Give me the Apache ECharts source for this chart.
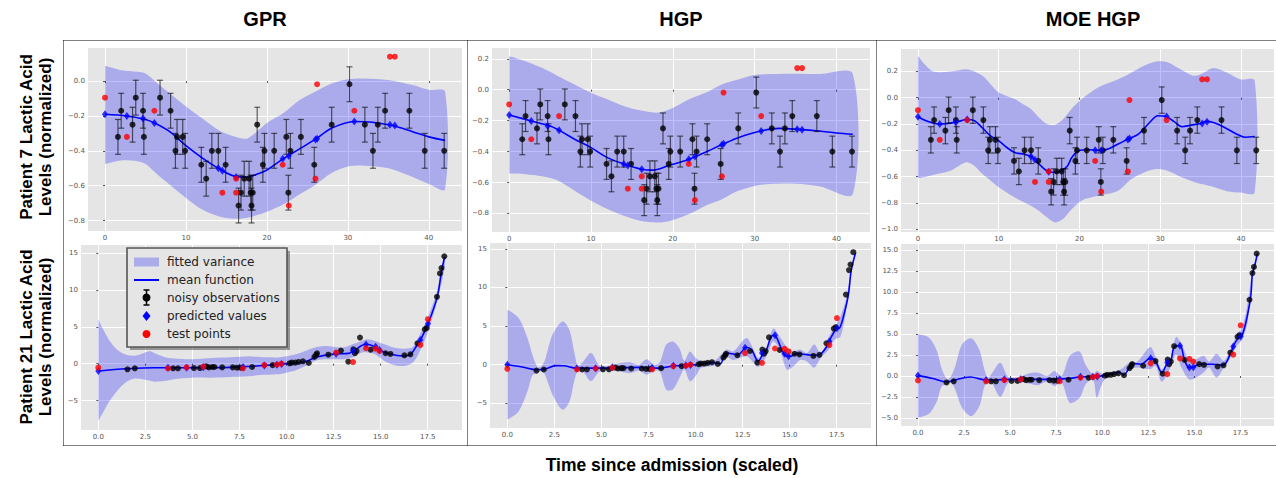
<!DOCTYPE html>
<html>
<head>
<meta charset="utf-8">
<script src="https://cdn.jsdelivr.net/npm/echarts@6/dist/echarts.min.js"></script>
<style>
html, body { margin: 0; padding: 0; background: #fff; }
#chart { width: 1276px; height: 478px; }
</style>
</head>
<body>
<div id="chart"></div>
<script>
// ---- Patient 7 (top row) ----
const obs7X = [1.6,2.0,3.4,3.8,4.7,4.8,6.8,8.1,8.7,8.9,9.6,9.9,11.9,12.5,13.2,14.0,14.9,16.5,16.8,17.2,17.8,18.0,18.1,18.25,18.8,19.5,19.7,20.9,22.4,22.65,22.9,24.2,25.85,28.0,30.2,32.1,33.1,33.7,34.6,37.6,39.5,41.9];
const obs7Y = [-0.32,-0.17,-0.25,-0.095,-0.17,-0.32,-0.095,-0.17,-0.40,-0.32,-0.32,-0.40,-0.48,-0.56,-0.40,-0.40,-0.48,-0.714,-0.64,-0.56,-0.56,-0.64,-0.714,-0.64,-0.25,-0.48,-0.40,-0.40,-0.32,-0.64,-0.40,-0.32,-0.48,-0.25,-0.018,-0.25,-0.40,-0.25,-0.17,-0.17,-0.40,-0.40];
const obs7Err = 0.1;
const test7X = [0,2.7,6.1,14.5,16.2,16.2,21.95,22.7,26.0,26.2,30.8,35.2,35.8];
const test7Y = [-0.095,-0.32,-0.17,-0.64,-0.56,-0.64,-0.48,-0.714,-0.56,-0.018,-0.17,0.14,0.14];
const pred7X = [0,2.7,4.7,6.1,14.0,14.5,16.2,21.95,22.7,26.0,26.2,30.8,35.2,35.8];
const gprPred7Y = [-0.19,-0.2,-0.215,-0.24,-0.5,-0.515,-0.55,-0.446,-0.43,-0.335,-0.33,-0.232,-0.25,-0.255];
const hgpPred7Y = [-0.163,-0.202,-0.234,-0.262,-0.48,-0.49,-0.514,-0.45,-0.432,-0.355,-0.35,-0.267,-0.256,-0.258];
const moePred7Y = [-0.145,-0.2,-0.186,-0.165,-0.446,-0.472,-0.563,-0.4,-0.4,-0.318,-0.31,-0.142,-0.195,-0.183];

const gprMean7X = [0,2.7,5,6.1,8,10,12,14,16,17.5,19,20,22,24,26,28,30.8,33,35.5,38,40,42];
const gprMean7Y = [-0.19,-0.2,-0.22,-0.24,-0.29,-0.37,-0.44,-0.5,-0.545,-0.55,-0.53,-0.51,-0.446,-0.39,-0.333,-0.27,-0.232,-0.236,-0.255,-0.29,-0.32,-0.34];
const gprBand7X = [0,2,4,5,6.5,8,10,12,14,16,17.5,19,20,22,24,26,28,30,32,35,38,40,42];
const gprBand7Hi = [0.088,0.063,0.054,0.044,-0.013,-0.07,-0.146,-0.213,-0.28,-0.318,-0.33,-0.28,-0.24,-0.185,-0.11,-0.06,-0.013,0.011,0.015,0.006,-0.023,-0.05,-0.06];
const gprBand7Lo = [-0.476,-0.455,-0.46,-0.476,-0.537,-0.594,-0.67,-0.737,-0.775,-0.79,-0.785,-0.766,-0.75,-0.708,-0.65,-0.594,-0.527,-0.49,-0.485,-0.5,-0.55,-0.59,-0.62];

const hgpMean7X = [0,2.7,5,6.1,8,10,12,14,16.2,17.5,19.5,22,24.3,26.1,28,30.75,33,35.35,37.9,40,42];
const hgpMean7Y = [-0.163,-0.202,-0.234,-0.262,-0.32,-0.374,-0.439,-0.48,-0.514,-0.52,-0.49,-0.45,-0.396,-0.353,-0.31,-0.267,-0.25,-0.256,-0.267,-0.28,-0.288];
const hgpBand7X = [0,2,4,6,8,10,12,14,16,18,19.5,22,24,26,28,30,32,35,38,42];
const hgpBand7Hi = [0.217,0.185,0.142,0.088,0.034,-0.019,-0.062,-0.105,-0.133,-0.148,-0.13,-0.062,-0.02,0.034,0.066,0.095,0.102,0.104,0.102,0.102];
const hgpBand7Lo = [-0.542,-0.546,-0.56,-0.589,-0.654,-0.718,-0.772,-0.815,-0.847,-0.858,-0.85,-0.804,-0.75,-0.708,-0.654,-0.622,-0.61,-0.608,-0.625,-0.675];

const moeMean7X = [0,1,2.7,4.7,6.1,7,8,9,10,11,12,13.2,14,14.5,15,16.2,17,17.7,18.5,19.06,19.9,21,22.8,24.8,26,27.3,28.9,29.7,30.7,31.7,32.7,33.7,35,35.7,36.6,37.8,39.5,40.5,41.7];
const moeMean7Y = [-0.145,-0.175,-0.2,-0.186,-0.165,-0.175,-0.23,-0.29,-0.327,-0.378,-0.416,-0.43,-0.446,-0.472,-0.504,-0.563,-0.568,-0.555,-0.52,-0.454,-0.403,-0.395,-0.4,-0.352,-0.314,-0.276,-0.175,-0.137,-0.142,-0.18,-0.22,-0.21,-0.195,-0.18,-0.188,-0.22,-0.277,-0.3,-0.295];
const moeBand7X = [0,1,2,4,6,7,8,9,10,12,13,14,15,16,17,18,19,20.3,22.3,24.8,26.4,28,29.5,30.9,32.5,34.2,35.4,36.6,38.3,39.9,41.7];
const moeBand7Hi = [0.319,0.243,0.197,0.2,0.217,0.2,0.167,0.103,0.04,-0.01,-0.048,-0.086,-0.15,-0.2,-0.205,-0.162,-0.086,-0.01,0.078,0.14,0.19,0.243,0.276,0.27,0.217,0.167,0.19,0.225,0.19,0.14,0.13];
const moeBand7Lo = [-0.611,-0.6,-0.585,-0.555,-0.49,-0.518,-0.58,-0.63,-0.68,-0.758,-0.79,-0.82,-0.86,-0.91,-0.948,-0.92,-0.85,-0.78,-0.745,-0.706,-0.62,-0.568,-0.542,-0.555,-0.6,-0.64,-0.66,-0.678,-0.71,-0.72,-0.72];

// ---- Patient 21 (bottom row) ----
const obs21X = [1.55,1.94,3.97,4.23,5.08,5.40,5.73,5.87,6.05,6.17,6.58,7.14,7.37,7.55,8.17,9.26,10.16,10.28,10.46,10.64,10.87,11.18,11.48,11.57,11.62,12.22,12.89,13.28,13.55,13.63,13.72,13.90,14.47,15.26,15.52,16.26,16.58,16.95,17.34,17.45,17.99,18.15,18.23,18.38];
const obs21Y = [-0.77,-0.63,-0.63,-0.63,-0.6,-0.6,-0.36,-0.5,-0.45,-0.45,-0.5,-0.5,-0.55,-0.55,-0.45,-0.2,0.05,0.14,0.14,0.23,0.32,0.09,0.92,1.18,1.41,1.22,1.77,0.27,1.95,1.41,1.72,3.54,1.9,1.41,1.32,1.13,1.27,2.77,4.67,4.85,9.07,12.24,12.97,14.56];
const test21X = [0,3.7,4.69,5.58,7.69,8.82,9.49,9.73,12.63,13.53,14.22,14.73,14.94,17.11,17.51];
const test21Y = [-0.54,-0.63,-0.5,-0.4,-0.63,-0.2,-0.14,0.0,1.5,0.22,2.09,2.04,1.72,2.54,6.03];
const gprPred21Y = [-1.0,-0.55,-0.55,-0.5,-0.45,-0.25,-0.15,-0.05,1.35,1.75,2.6,2.3,1.86,3.2,5.4];
const hgpPred21Y = [0.0,-0.45,-0.45,-0.35,-0.4,-0.15,-0.1,-0.05,2.2,1.5,3.8,1.4,1.08,3.0,4.7];
const moePred21Y = [0.07,-0.48,-0.4,-0.4,-0.4,-0.1,-0.1,-0.05,2.1,1.6,3.6,1.0,1.05,3.5,4.7];

const gprMean21X = [0,1.5,3,5,7,8.8,10,11,11.6,12.5,13.3,13.6,14.2,14.5,14.94,15.5,16.2,16.6,16.95,17.11,17.51,18.0,18.23,18.4];
const gprMean21Y = [-1.0,-0.7,-0.55,-0.55,-0.5,-0.25,0.0,0.3,0.9,1.3,1.4,1.8,2.63,2.5,1.86,1.3,1.04,1.3,2.6,3.2,5.4,9.0,12.5,14.5];
const gprBand21X = [0,0.3,0.6,1.0,1.5,2.0,2.7,3.0,3.5,4,5,6,7,8,8.6,9.5,10,10.5,11,11.5,12,12.5,13,13.5,14,14.3,14.7,15.2,15.7,16.2,16.7,17,17.5,18,18.4];
const gprBand21Hi = [6.0,4.45,3.1,1.9,1.2,1.1,1.7,1.4,0.91,0.7,0.6,0.77,0.86,1.0,0.9,0.85,1.0,1.27,1.72,2.18,2.4,2.3,2.18,2.63,3.09,3.3,3.09,2.63,2.18,2.04,2.27,3.54,6.26,9.9,14.7];
const gprBand21Lo = [-7.8,-6.4,-5.07,-3.7,-2.45,-2.0,-2.3,-2.45,-2.36,-2.1,-1.9,-1.9,-1.8,-1.7,-1.54,-1.45,-1.22,-0.9,-0.32,0.37,0.6,0.6,0.6,0.82,1.5,1.5,1.27,0.37,-0.18,-0.32,0.14,1.27,4.2,8.5,13.0];

const hgpMean21X = [0,0.8,1.56,2.0,2.57,3.0,3.66,5,7,8,8.88,9.59,10.2,10.92,11.3,11.64,12.26,12.7,12.97,13.33,13.6,13.77,14.0,14.17,14.31,14.58,14.85,15.06,15.35,15.92,16.35,16.65,17.06,17.2,17.5,17.65,17.86,18.12,18.27,18.5];
const hgpMean21Y = [0.0,-0.3,-0.65,-0.56,-0.13,-0.15,-0.45,-0.45,-0.35,-0.45,-0.15,-0.1,0.05,0.3,0.1,1.51,1.3,2.25,1.95,0.44,1.51,1.95,3.55,3.8,3.5,1.95,1.08,1.08,1.43,1.3,1.2,1.38,2.68,3.55,4.67,4.75,6.27,9.07,12.2,14.47];
const hgpBand21X = [0,0.6,1.07,1.33,1.6,1.8,2.0,2.4,2.93,3.3,3.55,3.75,4.0,4.45,4.9,5.5,6.0,6.5,7.0,7.4,7.8,8.1,8.44,8.8,9.15,9.4,9.7,10.0,10.3,11,11.64,12.0,12.7,13.06,13.33,13.77,14.13,14.5,14.85,15.2,15.56,15.92,16.3,16.65,17.06,17.36,17.7,18.0,18.27,18.5];
const hgpBand21Hi = [7.12,6.05,3.46,1.3,-0.3,-0.2,0.6,3.89,5.6,4.5,1.73,-0.2,0.3,1.5,-0.1,-0.1,0.2,0.3,0.0,0.7,0.0,0.3,2.6,3.0,2.1,0.5,1.7,0.9,0.5,0.5,1.95,1.7,3.46,2.1,0.87,2.25,4.67,3.5,2.25,1.7,1.95,1.5,2.6,1.5,3.5,4.8,6.27,8.6,12.4,14.5];
const hgpBand21Lo = [-7.12,-6.05,-3.45,-1.4,-1.0,-0.9,-1.3,-3.9,-5.83,-4.8,-2.2,-0.8,-0.9,-2.15,-0.9,-0.8,-0.9,-1.1,-0.8,-1.3,-0.8,-0.9,-3.24,-3.2,-1.7,-0.6,-2.15,-1.5,-0.4,-0.1,1.0,0.6,1.08,0.3,-0.3,1.08,3.03,1.73,-0.65,-0.2,0.6,0.4,-0.4,0.9,1.9,3.2,3.65,7.0,12.0,14.4];

const moeMean21X = [0,0.8,1.57,1.9,2.83,3.7,5,6,7,8.24,8.87,9.68,10.12,10.4,10.94,11.15,11.47,11.6,12.1,12.6,12.87,13.23,13.54,13.72,13.92,14.23,14.45,14.72,14.94,15.26,15.98,16.56,16.98,17.12,17.43,17.56,18.03,18.15,18.26,18.42];
const moeMean21Y = [0.07,-0.3,-0.71,-0.55,-0.12,-0.48,-0.4,-0.4,-0.4,-0.29,-0.1,-0.1,0.1,0.2,0.45,0.1,1.0,1.5,1.4,2.1,1.85,0.4,1.6,1.85,3.5,3.6,1.98,1.0,1.05,1.4,1.4,1.3,2.78,3.6,4.64,4.7,9.0,12.2,13.0,14.56];
const moeBand21X = [0,0.6,1.03,1.3,1.6,1.8,2.0,2.4,2.9,3.35,3.6,3.8,4.0,4.47,4.9,5.5,6.0,6.5,7.0,7.4,7.8,8.24,8.77,9.1,9.5,9.7,9.97,10.3,10.94,11.5,11.9,12.6,12.9,13.23,13.7,14.0,14.3,14.7,15.1,15.5,15.8,16.2,16.6,16.98,17.3,17.6,17.9,18.15,18.42];
const moeBand21Hi = [4.95,4.56,2.98,0.79,-0.4,0.0,1.0,3.8,4.48,3.0,0.8,-0.2,0.3,1.58,-0.1,-0.1,0.3,0.4,0.0,0.6,0.0,2.4,2.9,1.3,0.2,0.6,0.3,0.3,0.7,1.6,1.7,3.45,2.3,0.8,2.1,4.64,3.8,2.0,2.0,2.4,1.7,2.65,1.8,3.3,4.9,5.8,8.8,12.5,14.6];
const moeBand21Lo = [-4.96,-4.5,-3.0,-1.2,-1.0,-0.8,-1.5,-3.8,-4.77,-3.5,-1.3,-0.7,-0.8,-2.5,-0.8,-0.7,-0.9,-1.1,-0.7,-1.2,-0.8,-3.2,-2.6,-1.0,-0.4,-2.6,-1.0,-0.1,0.2,0.8,1.0,0.8,1.2,-0.7,1.0,2.57,1.0,-0.4,-0.2,0.4,1.0,-0.2,1.0,2.3,3.6,4.3,6.6,12.0,14.5];

// ---- tick labels ----
const ticksX7 = [0,10,20,30,40];
const ticksX21 = [0,2.5,5,7.5,10,12.5,15,17.5];
const ticksYgpr7 = [-0.8,-0.6,-0.4,-0.2,0.0];
const ticksYhgp7 = [-0.8,-0.6,-0.4,-0.2,0.0,0.2];
const ticksYmoe7 = [-1.0,-0.8,-0.6,-0.4,-0.2,0.0,0.2];
const ticksYgpr21 = [-5,0,5,10,15];
const ticksYhgp21 = [-5,0,5,10,15];
const ticksYmoe21 = [-5,-2.5,0,2.5,5,7.5,10,12.5,15];

const BAND = 'rgba(0,0,255,0.25)';
const zip = (xs, ys) => xs.map((x, i) => [x, ys[i]]);
const fmt = dec => v => v.toFixed(dec).replace('-', '\u2212');

const panels = [
    { rect: [88, 48, 374, 183], xr: [-2.1, 44.1], yr: [-0.86, 0.19], xt: ticksX7, yt: ticksYgpr7, xd: 0, yd: 1,
      bx: gprBand7X, hi: gprBand7Hi, lo: gprBand7Lo, mx: gprMean7X, my: gprMean7Y,
      ox: obs7X, oy: obs7Y, err: obs7Err, px: pred7X, py: gprPred7Y, tx: test7X, ty: test7Y },
    { rect: [492, 48, 378, 184], xr: [-2.1, 44.1], yr: [-0.92, 0.27], xt: ticksX7, yt: ticksYhgp7, xd: 0, yd: 1,
      bx: hgpBand7X, hi: hgpBand7Hi, lo: hgpBand7Lo, mx: hgpMean7X, my: hgpMean7Y,
      ox: obs7X, oy: obs7Y, err: obs7Err, px: pred7X, py: hgpPred7Y, tx: test7X, ty: test7Y },
    { rect: [901, 49, 373, 183], xr: [-2.1, 44.1], yr: [-1.02, 0.37], xt: ticksX7, yt: ticksYmoe7, xd: 0, yd: 1,
      bx: moeBand7X, hi: moeBand7Hi, lo: moeBand7Lo, mx: moeMean7X, my: moeMean7Y,
      ox: obs7X, oy: obs7Y, err: obs7Err, px: pred7X, py: moePred7Y, tx: test7X, ty: test7Y },
    { rect: [81, 245, 381, 185], xr: [-0.92, 19.32], yr: [-9.0, 16.1], xt: ticksX21, yt: ticksYgpr21, xd: 1, yd: 0,
      bx: gprBand21X, hi: gprBand21Hi, lo: gprBand21Lo, mx: gprMean21X, my: gprMean21Y,
      ox: obs21X, oy: obs21Y, err: null, px: test21X, py: gprPred21Y, tx: test21X, ty: test21Y },
    { rect: [490, 243, 381, 185], xr: [-0.92, 19.32], yr: [-8.2, 15.75], xt: ticksX21, yt: ticksYhgp21, xd: 1, yd: 0,
      bx: hgpBand21X, hi: hgpBand21Hi, lo: hgpBand21Lo, mx: hgpMean21X, my: hgpMean21Y,
      ox: obs21X, oy: obs21Y, err: null, px: test21X, py: hgpPred21Y, tx: test21X, ty: test21Y },
    { rect: [901, 244, 373, 182], xr: [-0.92, 19.32], yr: [-5.95, 15.7], xt: ticksX21, yt: ticksYmoe21, xd: 1, yd: 1,
      bx: moeBand21X, hi: moeBand21Hi, lo: moeBand21Lo, mx: moeMean21X, my: moeMean21Y,
      ox: obs21X, oy: obs21Y, err: null, px: test21X, py: moePred21Y, tx: test21X, ty: test21Y }
];

function errorBar(params, api) {
    const x = api.value(0), y = api.value(1), e = api.value(2);
    const top = api.coord([x, y + e]), bot = api.coord([x, y - e]);
    const c = 3;
    const st = { stroke: 'rgba(0,0,0,0.6)', lineWidth: 1.2 };
    return {
        type: 'group',
        children: [
            { type: 'line', shape: { x1: top[0], y1: top[1], x2: bot[0], y2: bot[1] }, style: st },
            { type: 'line', shape: { x1: top[0] - c, y1: top[1], x2: top[0] + c, y2: top[1] }, style: st },
            { type: 'line', shape: { x1: bot[0] - c, y1: bot[1], x2: bot[0] + c, y2: bot[1] }, style: st }
        ]
    };
}

// fitted variance band: upper edge left->right, lower edge right->left
function bandRenderer(p) {
    return function (params, api) {
        const up = p.bx.map((x, i) => api.coord([x, p.hi[i]]));
        const dn = p.bx.map((x, i) => api.coord([x, p.lo[i]])).reverse();
        return {
            type: 'group',
            children: [
                { type: 'polyline', shape: { points: up.concat(dn), smooth: 0.3 },
                  style: { fill: BAND, stroke: null } }
            ]
        };
    };
}

const tickLabel = { fontSize: 7, color: '#555', fontFamily: 'DejaVu Sans' };
const grids = [], xAxes = [], yAxes = [], series = [];

panels.forEach((p, k) => {
    grids.push({ left: p.rect[0], top: p.rect[1], width: p.rect[2], height: p.rect[3],
        show: true, backgroundColor: '#e5e5e5', borderWidth: 0 });
    const axisCommon = {
        gridIndex: k, type: 'value',
        axisLine: { show: false },
        splitLine: { show: true, lineStyle: { color: '#ffffff', width: 1 } }
    };
    xAxes.push(Object.assign({}, axisCommon, {
        min: p.xr[0], max: p.xr[1],
        axisTick: { show: true, length: 2, lineStyle: { color: '#555' }, customValues: p.xt },
        axisLabel: Object.assign({ customValues: p.xt, formatter: fmt(p.xd), margin: 3 }, tickLabel)
    }));
    yAxes.push(Object.assign({}, axisCommon, {
        min: p.yr[0], max: p.yr[1],
        axisTick: { show: true, length: 2, lineStyle: { color: '#555' }, customValues: p.yt },
        axisLabel: Object.assign({ customValues: p.yt, formatter: fmt(p.yd), margin: 3 }, tickLabel)
    }));

    const ax = { xAxisIndex: k, yAxisIndex: k };
    series.push(Object.assign({
        name: 'fitted variance', type: 'custom', renderItem: bandRenderer(p),
        data: [[p.bx[0], p.lo[0]]], encode: { x: 0, y: 1 }, silent: true, z: 1
    }, ax));
    series.push(Object.assign({
        name: 'mean function', type: 'line', data: zip(p.mx, p.my), symbol: 'none', smooth: 0.35,
        lineStyle: { color: '#0000ff', width: 1.6 }, z: 3
    }, ax));
    if (p.err !== null) {
        series.push(Object.assign({
            name: 'noisy observations', type: 'custom', renderItem: errorBar,
            data: p.ox.map((x, i) => [x, p.oy[i], p.err]), encode: { x: 0, y: 1 }, z: 4
        }, ax));
    }
    series.push(Object.assign({
        name: 'noisy observations', type: 'scatter', data: zip(p.ox, p.oy),
        symbolSize: 6, itemStyle: { color: '#000000' }, z: 5
    }, ax));
    series.push(Object.assign({
        name: 'predicted values', type: 'scatter', data: zip(p.px, p.py), symbol: 'diamond',
        symbolSize: [6, 8], itemStyle: { color: '#0000ff' }, z: 6
    }, ax));
    series.push(Object.assign({
        name: 'test points', type: 'scatter', data: zip(p.tx, p.ty),
        symbolSize: 6, itemStyle: { color: '#ff0000' }, z: 7
    }, ax));
});

// dotted frame, titles, labels, legend
const graphics = [];
const dotted = { stroke: '#000', lineWidth: 1, lineDash: [1, 1] };
[[63.5, 40.5, 1276, 40.5], [63.5, 445.5, 1276, 445.5], [63.5, 40.5, 63.5, 445.5],
 [467.5, 40.5, 467.5, 445.5], [876.5, 40.5, 876.5, 445.5]].forEach(l => {
    graphics.push({ type: 'line', shape: { x1: l[0], y1: l[1], x2: l[2], y2: l[3] }, style: dotted, z: 20 });
});

function label(text, x, y, size, rot) {
    return {
        type: 'text', x: x, y: y, rotation: rot || 0, z: 30,
        style: {
            text: text, font: 'bold ' + size + 'px "Liberation Sans", Arial, sans-serif', fill: '#000',
            align: 'center', verticalAlign: 'middle', textAlign: 'center', textVerticalAlign: 'middle'
        }
    };
}
graphics.push(label('GPR', 265, 19, 20));
graphics.push(label('HGP', 681, 19, 20));
graphics.push(label('MOE HGP', 1093, 19, 20));
graphics.push(label('Time since admission (scaled)', 672, 465, 17.5));
graphics.push(label('Patient 7 Lactic Acid', 26, 137, 17, Math.PI / 2));
graphics.push(label('Levels (normalized)', 45, 137, 17, Math.PI / 2));
graphics.push(label('Patient 21 Lactic Acid', 26, 337, 17, Math.PI / 2));
graphics.push(label('Levels (normalized)', 45, 337, 17, Math.PI / 2));

// legend box (in the GPR / Patient 21 panel)
const lgX = 127, lgY = 248, lgW = 160, lgH = 99;
graphics.push({ type: 'rect', shape: { x: lgX + 3, y: lgY + 3, width: lgW, height: lgH },
    style: { fill: 'rgba(0,0,0,0.35)' }, z: 40 });
graphics.push({ type: 'rect', shape: { x: lgX, y: lgY, width: lgW, height: lgH },
    style: { fill: '#e5e5e5', stroke: '#555', lineWidth: 1.6 }, z: 41 });
graphics.push({ type: 'rect', shape: { x: 134, y: 257.5, width: 25, height: 9 },
    style: { fill: '#acacea' }, z: 42 });
graphics.push({ type: 'line', shape: { x1: 134, y1: 280, x2: 159, y2: 280 },
    style: { stroke: '#0000ff', lineWidth: 2 }, z: 42 });
graphics.push({ type: 'line', shape: { x1: 146.5, y1: 290, x2: 146.5, y2: 305 },
    style: { stroke: '#000', lineWidth: 1.5 }, z: 42 });
graphics.push({ type: 'line', shape: { x1: 143.5, y1: 290, x2: 149.5, y2: 290 },
    style: { stroke: '#000', lineWidth: 1.5 }, z: 42 });
graphics.push({ type: 'line', shape: { x1: 143.5, y1: 305, x2: 149.5, y2: 305 },
    style: { stroke: '#000', lineWidth: 1.5 }, z: 42 });
graphics.push({ type: 'circle', shape: { cx: 146.5, cy: 297.5, r: 4 }, style: { fill: '#000' }, z: 43 });
graphics.push({ type: 'polygon', shape: { points: [[146.5, 311], [150.5, 316], [146.5, 321], [142.5, 316]] },
    style: { fill: '#0000ff' }, z: 42 });
graphics.push({ type: 'circle', shape: { cx: 146.5, cy: 334, r: 4 }, style: { fill: '#ff0000' }, z: 42 });
['fitted variance', 'mean function', 'noisy observations', 'predicted values', 'test points'].forEach((t, i) => {
    graphics.push({
        type: 'text', x: 167, y: 262 + i * 18, z: 43,
        style: { text: t, font: '12px "DejaVu Sans", sans-serif', fill: '#222',
                 align: 'left', verticalAlign: 'middle', textAlign: 'left', textVerticalAlign: 'middle' }
    });
});

const chart = echarts.init(document.getElementById('chart'), null, { renderer: 'svg' });
chart.setOption({
    animation: false,
    backgroundColor: '#ffffff',
    grid: grids,
    xAxis: xAxes,
    yAxis: yAxes,
    series: series,
    graphic: graphics
});
</script>
</body>
</html>
